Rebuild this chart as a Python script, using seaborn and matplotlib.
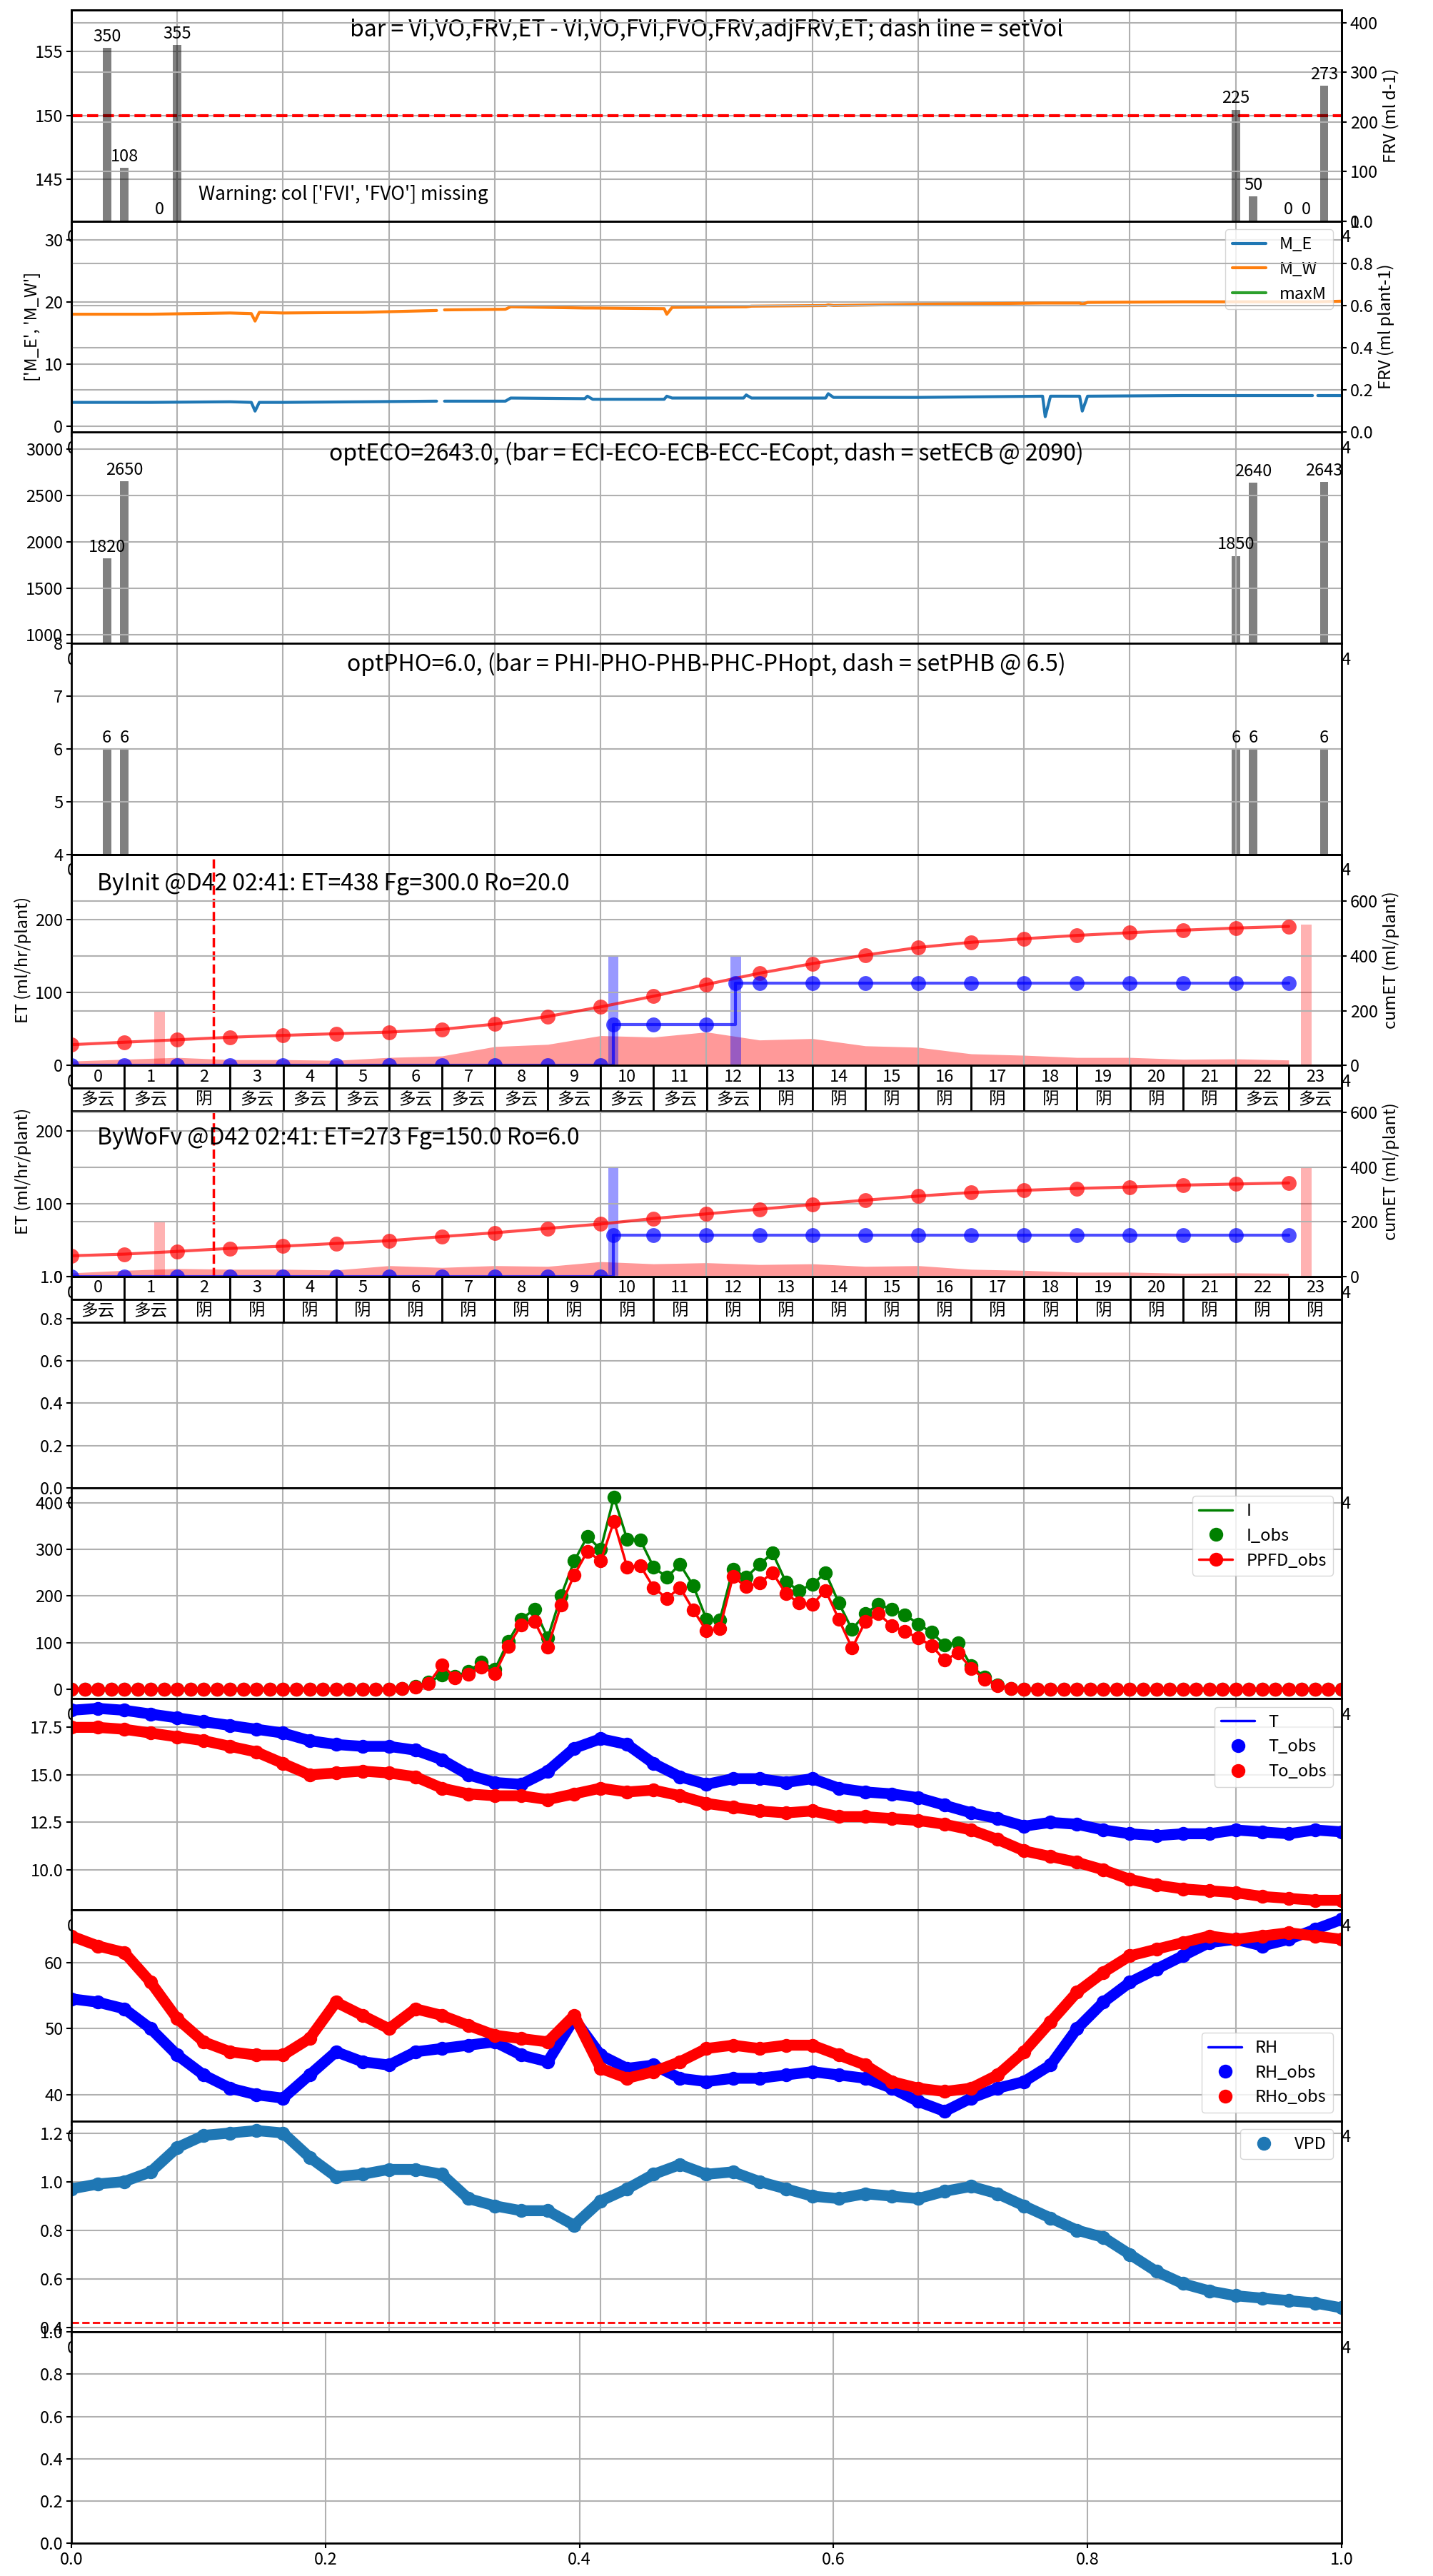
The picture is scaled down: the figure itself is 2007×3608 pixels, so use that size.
import numpy as np
import matplotlib
matplotlib.use("Agg")
import matplotlib.pyplot as plt
import seaborn as sns

nan = np.nan

# ---- 灌溉量 / FRV ----
vol_x = [0.67, 1.0, 1.67, 2.0, 22.0, 22.33, 23.0, 23.33, 23.67]
vol_v = [350, 108, 0, 355, 225, 50, 0, 0, 273]
set_vol = 150

# ---- M_E / M_W ----
m_t = [0.0, 1.5, 3.0, 3.4, 3.47, 3.55, 4.0, 5.5, 6.9, 6.95, 7.05, 8.2, 8.3, 9.7, 9.75, 9.85,
       11.2, 11.25, 11.35, 12.7, 12.75, 12.85, 14.25, 14.3, 14.4, 16.0, 18.35, 18.4, 18.5,
       19.05, 19.1, 19.2, 21.0, 23.45, 23.5, 23.55, 24.0]
m_e = [3.8, 3.8, 3.9, 3.8, 2.4, 3.8, 3.8, 3.9, 4.0, nan, 4.0, 4.0, 4.5, 4.4, 4.8, 4.3,
       4.3, 4.8, 4.5, 4.5, 5.0, 4.5, 4.5, 5.2, 4.6, 4.6, 4.8, 1.5, 4.8,
       4.8, 2.4, 4.8, 4.9, 4.9, nan, 4.9, 4.9]
m_w = [18.0, 18.0, 18.2, 18.1, 16.9, 18.3, 18.2, 18.3, 18.6, nan, 18.7, 18.8, 19.2, 19.0, 19.0, 19.0,
       18.9, 18.0, 19.1, 19.2, 19.2, 19.3, 19.4, 19.5, 19.4, 19.6, 19.8, 19.8, 19.8,
       19.8, 19.6, 19.9, 20.0, 20.0, 20.0, 20.0, 20.1]
max_m = []

# ---- EC / PH ----
ec_x = [0.67, 1.0, 22.0, 22.33, 23.67]
ec_v = [1820, 2650, 1850, 2640, 2643]
ph_v = [6, 6, 6, 6, 6]

# ---- ET ----
hours24 = list(range(24))
et1_hourly = [6, 8.5, 11, 8, 8, 7, 11, 13, 26, 29, 41, 39, 46, 35, 37, 27, 25, 16, 14, 11, 11, 8.5, 9, 7.5]
et1_cum = [76, 85, 94, 103, 110, 116, 122, 132, 151, 179, 214, 253, 296, 337, 372, 403, 431, 450,
           463, 475, 485, 494, 502, 508]
et2_hourly = [5, 8.5, 11, 10, 10, 9, 15, 12.5, 15, 14, 20.5, 17.5, 19, 16.5, 17.5, 14, 15, 10,
              8.5, 6, 6, 4.5, 5, 4.5]
et2_cum = [76, 82, 92, 103, 111, 121, 131, 146, 160, 176, 192, 212, 229, 246, 263, 279, 294, 307,
           315, 322, 327, 334, 338, 342]
irr1_t = [0, 1, 2, 3, 4, 5, 6, 7, 8, 9, 10, 10.24, 11, 12, 12.55, 13, 14, 15, 16, 17, 18, 19, 20, 21, 22, 23]
irr1_cum = [0, 0, 0, 0, 0, 0, 0, 0, 0, 0, 0, 150, 150, 150, 300, 300, 300, 300, 300, 300, 300, 300,
            300, 300, 300, 300]
irr2_t = [0, 1, 2, 3, 4, 5, 6, 7, 8, 9, 10, 10.24, 11, 12, 13, 14, 15, 16, 17, 18, 19, 20, 21, 22, 23]
irr2_cum = [0, 0, 0, 0, 0, 0, 0, 0, 0, 0, 0, 150, 150, 150, 150, 150, 150, 150, 150, 150, 150, 150,
            150, 150, 150]
irr1_bar_x = [10.24, 12.55]
irr1_bar_v = [150, 150]
irr2_bar_x = [10.24]
irr2_bar_v = [150]
pred_x = [1.67, 23.33]
pred1_v = [200, 514]
pred2_v = [200, 400]
t_now = 2.683
weather1 = ["多云", "多云", "阴", "多云", "多云", "多云", "多云", "多云", "多云", "多云", "多云", "多云",
            "多云", "阴", "阴", "阴", "阴", "阴", "阴", "阴", "阴", "阴", "多云", "多云"]
weather2 = ["多云", "多云", "阴", "阴", "阴", "阴", "阴", "阴", "阴", "阴", "阴", "阴",
            "阴", "阴", "阴", "阴", "阴", "阴", "阴", "阴", "阴", "阴", "阴", "阴"]

# ---- 光照 (每 0.25 h) ----
t_q = np.arange(0, 24.01, 0.25)
i_obs = [0, 0, 0, 0, 0, 0, 0, 0, 0, 0, 0, 0, 0, 0, 0, 0, 0, 0, 0, 0, 0, 0, 0, 0,
         0, 2, 6, 15, 30, 28, 38, 58, 42, 102, 150, 172, 110, 200, 275, 328,
         300, 412, 322, 320, 262, 240, 268, 222, 150, 148, 258, 240, 268, 292, 230, 212,
         225, 250, 185, 128, 162, 182, 172, 160, 140, 122, 95, 100, 50, 26, 9, 2,
         0, 0, 0, 0, 0, 0, 0, 0, 0, 0, 0, 0, 0, 0, 0, 0, 0, 0, 0, 0, 0, 0, 0, 0, 0]
ppfd_obs = [0, 0, 0, 0, 0, 0, 0, 0, 0, 0, 0, 0, 0, 0, 0, 0, 0, 0, 0, 0, 0, 0, 0, 0,
            0, 2, 5, 12, 52, 25, 32, 48, 33, 92, 138, 145, 90, 180, 245, 296,
            275, 360, 262, 265, 218, 195, 218, 170, 125, 130, 242, 220, 228, 250, 205, 185,
            182, 212, 150, 88, 145, 162, 136, 124, 110, 94, 62, 78, 45, 22, 8, 2,
            0, 0, 0, 0, 0, 0, 0, 0, 0, 0, 0, 0, 0, 0, 0, 0, 0, 0, 0, 0, 0, 0, 0, 0, 0]

# ---- 温湿度 (每 0.5 h) ----
t_h = np.arange(0, 24.01, 0.5)
t_obs = [18.4, 18.5, 18.4, 18.2, 18.0, 17.8, 17.6, 17.4, 17.2, 16.8,
         16.6, 16.5, 16.5, 16.3, 15.8, 15.0, 14.6, 14.5, 15.2, 16.4,
         16.9, 16.6, 15.6, 14.9, 14.5, 14.8, 14.8, 14.6, 14.8, 14.3,
         14.1, 14.0, 13.8, 13.4, 13.0, 12.7, 12.3, 12.5, 12.4, 12.1,
         11.9, 11.8, 11.9, 11.9, 12.1, 12.0, 11.9, 12.1, 12.0]
to_obs = [17.5, 17.5, 17.4, 17.2, 17.0, 16.8, 16.5, 16.2, 15.6, 15.0,
          15.1, 15.2, 15.1, 14.9, 14.3, 14.0, 13.9, 13.9, 13.7, 14.0,
          14.3, 14.1, 14.2, 13.9, 13.5, 13.3, 13.1, 13.0, 13.1, 12.8,
          12.8, 12.7, 12.6, 12.4, 12.1, 11.6, 11.0, 10.7, 10.4, 10.0,
          9.5, 9.2, 9.0, 8.9, 8.8, 8.6, 8.5, 8.4, 8.4]
t_ticks = [10.0, 12.5, 15.0, 17.5]
rh_obs = [54.5, 54.0, 53.0, 50.0, 46.0, 43.0, 41.0, 40.0, 39.5, 43.0,
          46.5, 45.0, 44.5, 46.5, 47.0, 47.5, 48.0, 46.0, 45.0, 51.5,
          46.0, 44.0, 44.5, 42.5, 42.0, 42.5, 42.5, 43.0, 43.5, 43.0,
          42.5, 41.0, 39.0, 37.5, 39.5, 41.0, 42.0, 44.5, 50.0, 54.0,
          57.0, 59.0, 61.0, 63.0, 63.5, 62.5, 63.5, 65.0, 66.5]
rho_obs = [64.0, 62.5, 61.5, 57.0, 51.5, 48.0, 46.5, 46.0, 46.0, 48.5,
           54.0, 52.0, 50.0, 53.0, 52.0, 50.5, 49.0, 48.5, 48.0, 52.0,
           44.0, 42.5, 43.5, 45.0, 47.0, 47.5, 47.0, 47.5, 47.5, 46.0,
           44.5, 42.0, 41.0, 40.5, 41.0, 43.0, 46.5, 51.0, 55.5, 58.5,
           61.0, 62.0, 63.0, 64.0, 63.5, 64.0, 64.5, 64.0, 63.5]
vpd_obs = [0.97, 0.99, 1.00, 1.04, 1.14, 1.19, 1.20, 1.21, 1.20, 1.10,
           1.02, 1.03, 1.05, 1.05, 1.03, 0.93, 0.90, 0.88, 0.88, 0.82,
           0.92, 0.97, 1.03, 1.07, 1.03, 1.04, 1.00, 0.97, 0.94, 0.93,
           0.95, 0.94, 0.93, 0.96, 0.98, 0.95, 0.90, 0.85, 0.80, 0.77,
           0.70, 0.63, 0.58, 0.55, 0.53, 0.52, 0.51, 0.50, 0.48]
vpd_lim = 0.42

# ---- 样式 ----
sns.set_style("ticks", {"axes.edgecolor": "black", "axes.grid": True, "grid.color": "#b0b0b0",
                        "axes.axisbelow": "line", "xtick.color": "black", "ytick.color": "black",
                        "text.color": "black", "axes.labelcolor": "black",
                        "patch.force_edgecolor": False})
plt.rcParams["font.family"] = ["Noto Sans CJK SC", "DejaVu Sans"]
plt.rcParams.update({"axes.linewidth": 2.0, "grid.linewidth": 1.5,
                     "xtick.labelsize": 17, "ytick.labelsize": 17, "axes.labelsize": 17,
                     "legend.fontsize": 17, "xtick.major.width": 1.5, "ytick.major.width": 1.5,
                     "xtick.major.size": 5, "ytick.major.size": 5})

fig, axes = plt.subplots(12, 1, figsize=(20.08, 36.08), dpi=100)
fig.subplots_adjust(left=100 / 2008, right=1879 / 2008, top=1 - 14 / 3608,
                    bottom=1 - 3562 / 3608, hspace=0)
for ax in axes[:11]:
    ax.set_xlim(0, 24)
    ax.set_xticks(range(0, 25, 2))
for ax in axes:
    ax.grid(True)

TXT = 23

# 1: 灌溉量
ax = axes[0]
ax.axhline(set_vol, color="r", ls="--", lw=3)
ax.set_ylim(141.75, 158.25)
ax.text(0.5, 0.905, "bar = VI,VO,FRV,ET - VI,VO,FVI,FVO,FRV,adjFRV,ET; dash line = setVol",
        transform=ax.transAxes, ha="center", va="center", fontsize=TXT)
ax.text(0.1, 0.125, "Warning: col ['FVI', 'FVO'] missing", transform=ax.transAxes,
        va="center", fontsize=19)
axr = ax.twinx()
bars = axr.bar(vol_x, vol_v, width=0.16, color="k", alpha=0.5)
axr.bar_label(bars, fmt="%d", fontsize=17, padding=3)
axr.set_ylim(0, 426)
axr.set_ylabel("FRV (ml d-1)")

# 2: M_E / M_W
ax = axes[1]
ax.plot(m_t, m_e, color="C0", lw=3, label="M_E")
ax.plot(m_t, m_w, color="C1", lw=3, label="M_W")
ax.plot(max_m, max_m, color="C2", lw=3, label="maxM")
ax.set_ylim(-1, 33)
ax.set_ylabel("['M_E', 'M_W']")
ax.legend(loc="upper right")
axr = ax.twinx()
axr.set_ylim(0, 1)
axr.set_ylabel("FRV (ml plant-1)")

# 3: EC
ax = axes[2]
bars = ax.bar(ec_x, ec_v, width=0.16, color="grey")
ax.bar_label(bars, fmt="%d", fontsize=17, padding=3)
ax.set_ylim(910, 3180)
ax.text(0.5, 0.9, "optECO=2643.0, (bar = ECI-ECO-ECB-ECC-ECopt, dash = setECB @ 2090)",
        transform=ax.transAxes, ha="center", va="center", fontsize=TXT)

# 4: PH
ax = axes[3]
bars = ax.bar(ec_x, ph_v, width=0.16, color="grey")
ax.bar_label(bars, fmt="%d", fontsize=17, padding=3)
ax.set_ylim(4, 8)
ax.text(0.5, 0.9, "optPHO=6.0, (bar = PHI-PHO-PHB-PHC-PHopt, dash = setPHB @ 6.5)",
        transform=ax.transAxes, ha="center", va="center", fontsize=TXT)


def draw_et(ax, hourly, cum, irr_t, irr_cum, bar_x, bar_v, pred_v, weather, label, ty):
    ax.fill_between(hours24, hourly, color="r", alpha=0.4, lw=0)
    ax.bar(bar_x, bar_v, width=0.2, color="b", alpha=0.4)
    ax.axvline(t_now, color="r", ls="--", lw=2.5)
    ax.set_ylim(0, 290)
    ax.set_yticks([0, 100, 200])
    ax.set_ylabel("ET (ml/hr/plant)")
    ax.text(0.02, ty, label, transform=ax.transAxes, va="center", fontsize=TXT)
    axr = ax.twinx()
    axr.bar(pred_x, pred_v, width=0.2, color="r", alpha=0.3)
    sns.lineplot(x=hours24, y=cum, ax=axr, color="r", lw=3, alpha=0.7,
                 marker="o", markersize=15, markeredgewidth=0)
    axr.plot(irr_t, irr_cum, color="b", lw=3, alpha=0.7, marker="o", ms=15, mew=0,
             drawstyle="steps-post")
    axr.set_ylim(0, 771)
    axr.set_yticks([0, 200, 400, 600])
    axr.set_ylabel("cumET (ml/plant)")
    h = 64 / 296
    tbl = axr.table(cellText=[[str(k) for k in hours24], weather], cellLoc="center",
                    bbox=[0, -h, 1, h])
    tbl.auto_set_font_size(False)
    tbl.set_fontsize(17)
    for cell in tbl.get_celld().values():
        cell.set_linewidth(2)
        cell.set_edgecolor("black")


draw_et(axes[4], et1_hourly, et1_cum, irr1_t, irr1_cum, irr1_bar_x, irr1_bar_v, pred1_v,
        weather1, "ByInit @D42 02:41: ET=438 Fg=300.0 Ro=20.0", 0.86)
draw_et(axes[5], et2_hourly, et2_cum, irr2_t, irr2_cum, irr2_bar_x, irr2_bar_v, pred2_v,
        weather2, "ByWoFv @D42 02:41: ET=273 Fg=150.0 Ro=6.0", 0.655)

# 8: 光照
ax = axes[7]
ax.plot(t_q, i_obs, color="g", lw=2.5, label="I")
ax.plot(t_q, i_obs, "o", color="g", ms=13, label="I_obs")
ax.plot(t_q, ppfd_obs, "-o", color="r", lw=2.5, ms=13, label="PPFD_obs")
ax.legend(loc="upper right")


def band(ax, y, color, lab_line, lab_obs):
    ax.plot(t_h, y, color=color, lw=11, label="_band")
    if lab_line:
        ax.plot(t_h, y, color=color, lw=2.5, label=lab_line)
    ax.plot(t_h, y, "o", color=color, ms=13, label=lab_obs)


# 9: 温度
ax = axes[8]
band(ax, t_obs, "b", "T", "T_obs")
band(ax, to_obs, "r", None, "To_obs")
ax.set_yticks(t_ticks)
ax.yaxis.set_major_formatter("{x:.1f}")
ax.legend(loc="upper right")

# 10: 湿度
ax = axes[9]
band(ax, rh_obs, "b", "RH", "RH_obs")
band(ax, rho_obs, "r", None, "RHo_obs")
ax.legend(loc="lower right")

# 11: VPD
ax = axes[10]
band(ax, vpd_obs, "C0", None, "VPD")
ax.axhline(vpd_lim, color="r", ls="--", lw=2)
ax.legend(loc="upper right")

fig.savefig("out.png", dpi=100)
